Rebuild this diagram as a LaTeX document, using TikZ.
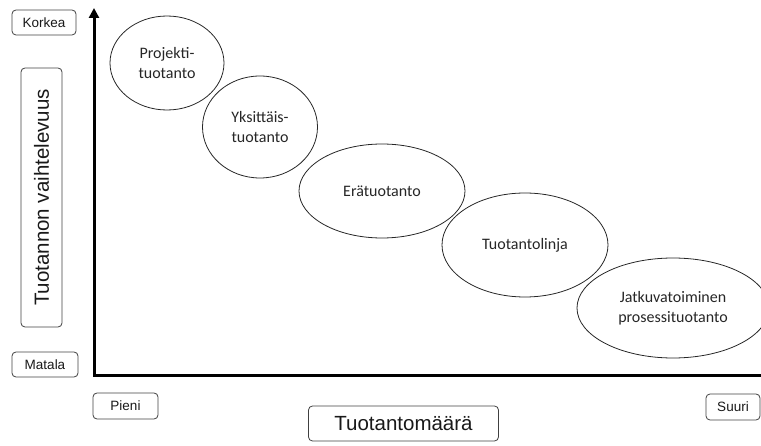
\documentclass[tikz,border=0pt]{standalone}
\usepackage{fontspec}
\setmainfont{Carlito}
\newfontfamily\arialf{Liberation Sans}
\usetikzlibrary{shapes.geometric,arrows.meta}
\tikzset{
  lbox/.style={draw=black!75, line width=0.8pt, rounded corners=4pt, inner sep=0pt,
    font=\arialf\fontsize{13.5}{16}\selectfont, text=black!90},
  bigbox/.style={lbox, font=\arialf\fontsize{20.5}{24}\selectfont},
  oval/.style={draw=black!85, line width=0.8pt, ellipse, inner sep=0pt, align=center,
    font=\fontsize{16}{20}\selectfont, text=black!85},
  axis/.style={line width=3pt, line join=miter}
}
\begin{document}
\begin{tikzpicture}[x=1pt,y=-1pt]
\useasboundingbox (0,0) rectangle (761,446);
% axes
\coordinate (ytip) at (94,8);
\coordinate (origin) at (94,376);
\coordinate (xend) at (761,376);
\draw[axis, {Triangle[width=10pt,length=10pt]}-] (ytip) -- (origin) -- (xend);
% labels
\node[lbox, minimum width=64pt, minimum height=25pt] (korkea) at (44,22.5) {Korkea};
\node[lbox, minimum width=66pt, minimum height=25pt] (matala) at (45,364.5) {Matala};
\node[lbox, minimum width=65pt, minimum height=26pt] (pieni) at (125.5,406) {Pieni};
\node[lbox, minimum width=54pt, minimum height=26pt] (suuri) at (733,407) {Suuri};
\node[bigbox, rotate=90, minimum width=259pt, minimum height=41pt] (vaiht) at (41.5,197.5) {Tuotannon vaihtelevuus};
\node[bigbox, minimum width=190pt, minimum height=35pt] (maara) at (403.5,423.5) {Tuotantomäärä};
% ellipses
\node[oval, minimum width=114pt, minimum height=94pt] (projekti) at (167,63) {Projekti-\\tuotanto};
\node[oval, minimum width=115pt, minimum height=102pt] (yksi) at (260,127) {Yksittäis-\\tuotanto};
\node[oval, minimum width=166pt, minimum height=94pt] (era) at (382,191) {Erätuotanto};
\node[oval, minimum width=166pt, minimum height=104pt] (linja) at (525,245) {Tuotantolinja};
\node[oval, minimum width=192pt, minimum height=100pt] (jatku) at (673,308) {Jatkuvatoiminen\\prosessituotanto};
\end{tikzpicture}
\end{document}
